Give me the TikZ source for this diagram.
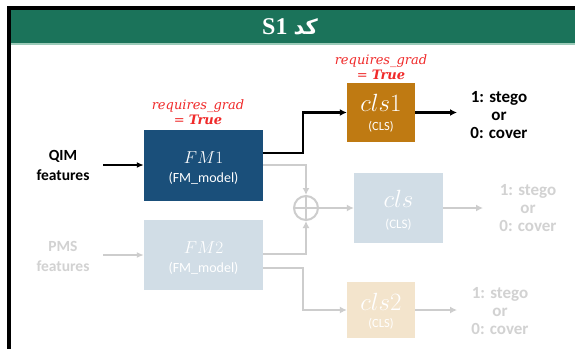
\documentclass[tikz,border=0pt]{standalone}
\usepackage{fontspec}
\usetikzlibrary{arrows.meta,calc}
\TeXXeTstate=1
\newfontfamily\carl{Carlito}
\newfontfamily\redf{DejaVu Serif}
\newfontfamily\titf{Liberation Serif}
\newfontfamily\arabicfont[Script=Arabic]{DejaVu Sans}
\definecolor{hdrgreen}{HTML}{1B735A}
\definecolor{hdrline}{HTML}{9CCBB9}
\definecolor{fmblue}{HTML}{1A4F7A}
\definecolor{fmlight}{HTML}{D1DDE6}
\definecolor{clsorange}{HTML}{BF7A12}
\definecolor{clstan}{HTML}{F3E4CC}
\definecolor{gline}{HTML}{CDCDCD}
\definecolor{gtext}{HTML}{D2D2D2}
\definecolor{redt}{HTML}{F02A2A}
\tikzset{
  box/.style={rectangle, inner sep=0pt, align=center, text=white},
  lbl/.style={font=\carl\bfseries\fontsize{15.5}{20}\selectfont, align=center, inner sep=0pt},
  outl/.style={font=\carl\bfseries\fontsize{17}{18}\selectfont, align=center, inner sep=0pt},
  redl/.style={font=\redf\itshape\fontsize{13}{15.5}\selectfont, text=redt, align=center, inner sep=0pt},
  subl/.style={text=white, inner sep=0pt},
  blk/.style={draw=black, line width=2.3pt, -{Latex[length=7pt,width=7pt]}},
  gry/.style={draw=gline, line width=2.3pt, -{Latex[length=7pt,width=7pt]}},
  gryn/.style={draw=gline, line width=2.3pt},
}
\begin{document}
\begin{tikzpicture}[x=1pt,y=-1pt]
\useasboundingbox (0,0) rectangle (575,349);
\fill[white] (0,0) rectangle (575,349);
% frame and header
\fill[black] (7,6) rectangle (575,10);
\fill[black] (7,6) rectangle (11,349);
\fill[hdrgreen] (11,10) rectangle (575,43);
\fill[hdrline] (11,43) rectangle (575,45);
\node[text=white, inner sep=0pt] (title) at (290,26.5) {\titf\bfseries\fontsize{24}{26}\selectfont S1 {\arabicfont\bfseries\fontsize{21}{26}\selectfont\beginR کد\endR}};
% boxes
\node[box, fill=fmblue, minimum width=119pt, minimum height=71pt] (fm1) at (203.5,165.5) {};
\node[box, fill=fmlight, minimum width=119pt, minimum height=70pt] (fm2) at (203.5,255) {};
\node[box, fill=clsorange, minimum width=68pt, minimum height=59pt] (cls1) at (381,112.5) {};
\node[box, fill=fmlight, minimum width=89pt, minimum height=70pt] (cls) at (398.5,208) {};
\node[box, fill=clstan, minimum width=68pt, minimum height=56pt] (cls2) at (381,310) {};
% box texts
\node[subl] (fm1t) at (203.5,158) {\fontsize{17.5}{17.5}\selectfont$FM1$};
\node[subl, font=\carl\fontsize{14}{14}\selectfont] (fm1s) at (203.5,178) {(FM\_model)};
\node[subl] (fm2t) at (203.5,248) {\fontsize{17.5}{17.5}\selectfont$FM2$};
\node[subl, font=\carl\fontsize{14}{14}\selectfont] (fm2s) at (203.5,268) {(FM\_model)};
\node[subl] (cls1t) at (381,103) {\fontsize{25}{25}\selectfont$cls1$};
\node[subl, font=\carl\fontsize{12.5}{13}\selectfont] (cls1s) at (381,127) {(CLS)};
\node[subl] (clst) at (398.5,199) {\fontsize{29}{29}\selectfont$cls$};
\node[subl, font=\carl\fontsize{13}{13}\selectfont] (clss) at (398.5,225) {(CLS)};
\node[subl] (cls2t) at (381,302) {\fontsize{25}{25}\selectfont$cls2$};
\node[subl, font=\carl\fontsize{12.5}{13}\selectfont] (cls2s) at (381,324) {(CLS)};
% red labels
\node[redl] (r1) at (198,112) {requires\_grad\\= \textbf{True}};
\node[redl] (r2) at (381,67) {requires\_grad\\= \textbf{True}};
% inputs
\node[lbl] (qim) at (63,165) {QIM\\features};
\node[lbl, text=gtext] (pms) at (63,256) {PMS\\features};
\coordinate (qs) at (103,165);
\coordinate (ps) at (103,255);
\draw[draw=black, line width=1.8pt, -{Latex[length=7pt,width=6pt]}] (qs) -- (fm1.west |- qs);
\draw[draw=gline, line width=1.8pt, -{Latex[length=7pt,width=6pt]}] (ps) -- (fm2.west |- ps);
% oplus
\node[circle, draw=gline, line width=2pt, minimum size=24pt, inner sep=0pt] (op) at (306,208) {};
\draw[gryn, line width=2pt] (op.north) -- (op.south) (op.west) -- (op.east);
% connectors
\coordinate (b1) at (303,153);
\draw[blk] (fm1.east |- b1) -- (b1) |- (cls1.west);
\coordinate (g1) at (306,165);
\draw[gry] (fm1.east |- g1) -- (g1) -- (op.north);
\coordinate (g2) at (306,254);
\draw[gry] (fm2.east |- g2) -- (g2) -- (op.south);
\draw[gry] (op.east) -- (cls.west);
\coordinate (g3) at (303,268);
\draw[gry] (fm2.east |- g3) -- (g3) |- (cls2.west);
% outputs
\coordinate (e1) at (457,112.5);
\coordinate (e2) at (483,208);
\coordinate (e3) at (457,310);
\draw[blk] (cls1.east) -- (e1);
\draw[gry] (cls.east) -- (e2);
\draw[gry] (cls2.east) -- (e3);
\node[outl] (o1) at (499,115) {1: stego\\or\\0: cover};
\node[outl, text=gtext] (o2) at (528,208) {1: stego\\or\\0: cover};
\node[outl, text=gtext] (o3) at (500,311) {1: stego\\or\\0: cover};
\end{tikzpicture}
\end{document}
